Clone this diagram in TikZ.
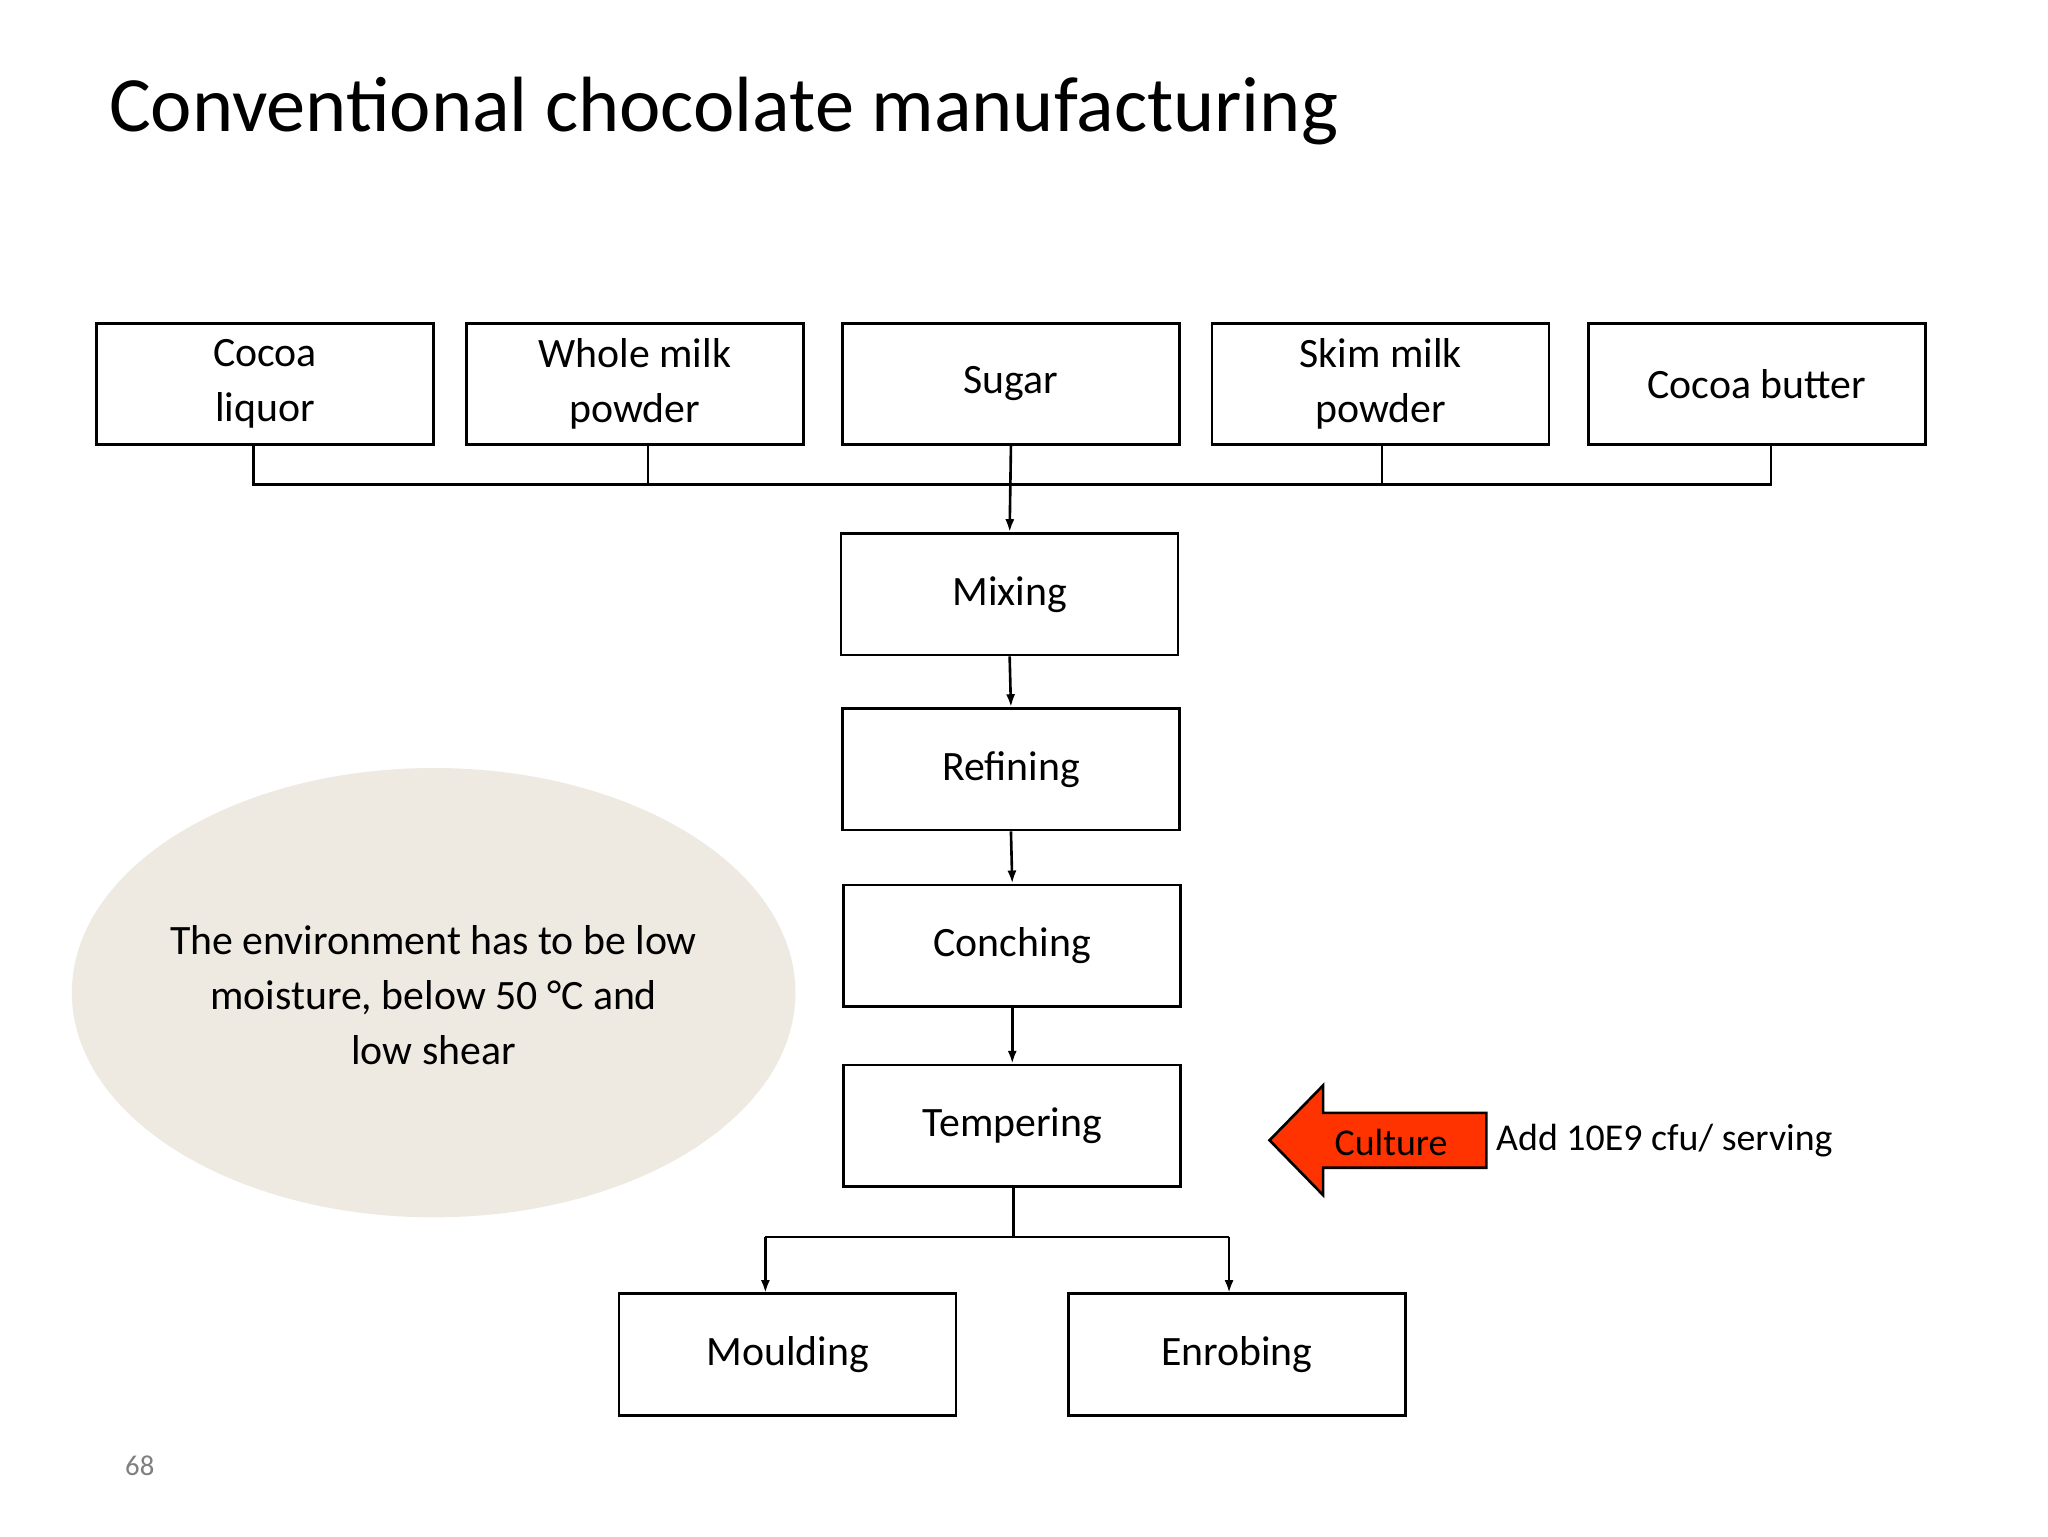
\documentclass[tikz,border=0pt]{standalone}
\usepackage{fontspec}
\setmainfont{Carlito}
\usetikzlibrary{arrows.meta,shapes.geometric}
\begin{document}
\begin{tikzpicture}[x=1pt,y=-1pt,
  box/.style={draw,line width=2pt,minimum width=258pt,minimum height=93pt,align=center,font=\fontsize{32}{42}\selectfont,inner sep=0pt},
  ln/.style={line width=2pt},
  arr/.style={ln,-{Latex[length=10pt,width=7pt]}}]
\path[use as bounding box,fill=white] (0,0) rectangle (1568,1176);
\node[anchor=west,font=\fontsize{60}{70}\selectfont] (title) at (80,85) {Conventional chocolate manufacturing};
\node[box] (a) at (203,294) {Cocoa\\liquor};
\node[box] (b) at (486,294) {Whole milk\\powder};
\node[box] (c) at (774,294) {Sugar};
\node[box] (d) at (1057,294) {Skim milk\\powder};
\node[box] (e) at (1345,294) {Cocoa butter};
\node[box] (mix) at (773,455) {Mixing};
\node[box] (ref) at (774,589) {Refining};
\node[box] (con) at (775,724) {Conching};
\node[box] (tem) at (775,862) {Tempering};
\node[box] (mou) at (603,1037) {Moulding};
\node[box] (enr) at (947,1037) {Enrobing};
\draw[ln] (194,341) |- (1356,371) -- (1356,341);
\draw[ln] (496,341) -- (496,371);
\draw[ln] (1058,341) -- (1058,371);
\draw[arr] (c.south) -- (mix.north);
\draw[arr] (mix.south) -- (ref.north);
\draw[arr] (ref.south) -- (con.north);
\draw[arr] (con.south -| tem.north) -- (tem.north);
\coordinate (s) at (776,947);
\draw[ln] (tem.south -| s) -- (s);
\draw[ln] (586,947) -- (941,947);
\draw[arr] (586,947) -- (586,990);
\draw[arr] (941,947) -- (941,990);
\node[ellipse,fill={rgb,255:red,238;green,234;blue,226},minimum width=554pt,minimum height=344pt,inner sep=0pt] (env) at (332,760) {};
\node[align=center,font=\fontsize{32}{42}\selectfont] (envt) at (332,762) {The environment has to be low\\moisture, below 50 \textdegree C and\\low shear};
\draw[line width=2pt,fill={rgb,255:red,255;green,51;blue,0}] (972,873) -- (1013,831) -- (1013,852) -- (1138,852) -- (1138,894) -- (1013,894) -- (1013,915) -- cycle;
\node[font=\fontsize{29}{34}\selectfont] (cul) at (1065,875) {Culture};
\node[anchor=west,font=\fontsize{29}{34}\selectfont] (add) at (1142,873) {Add 10E9 cfu/ serving};
\node[font=\fontsize{22}{26}\selectfont,text=gray] (pg) at (107,1122) {68};
\end{tikzpicture}
\end{document}
